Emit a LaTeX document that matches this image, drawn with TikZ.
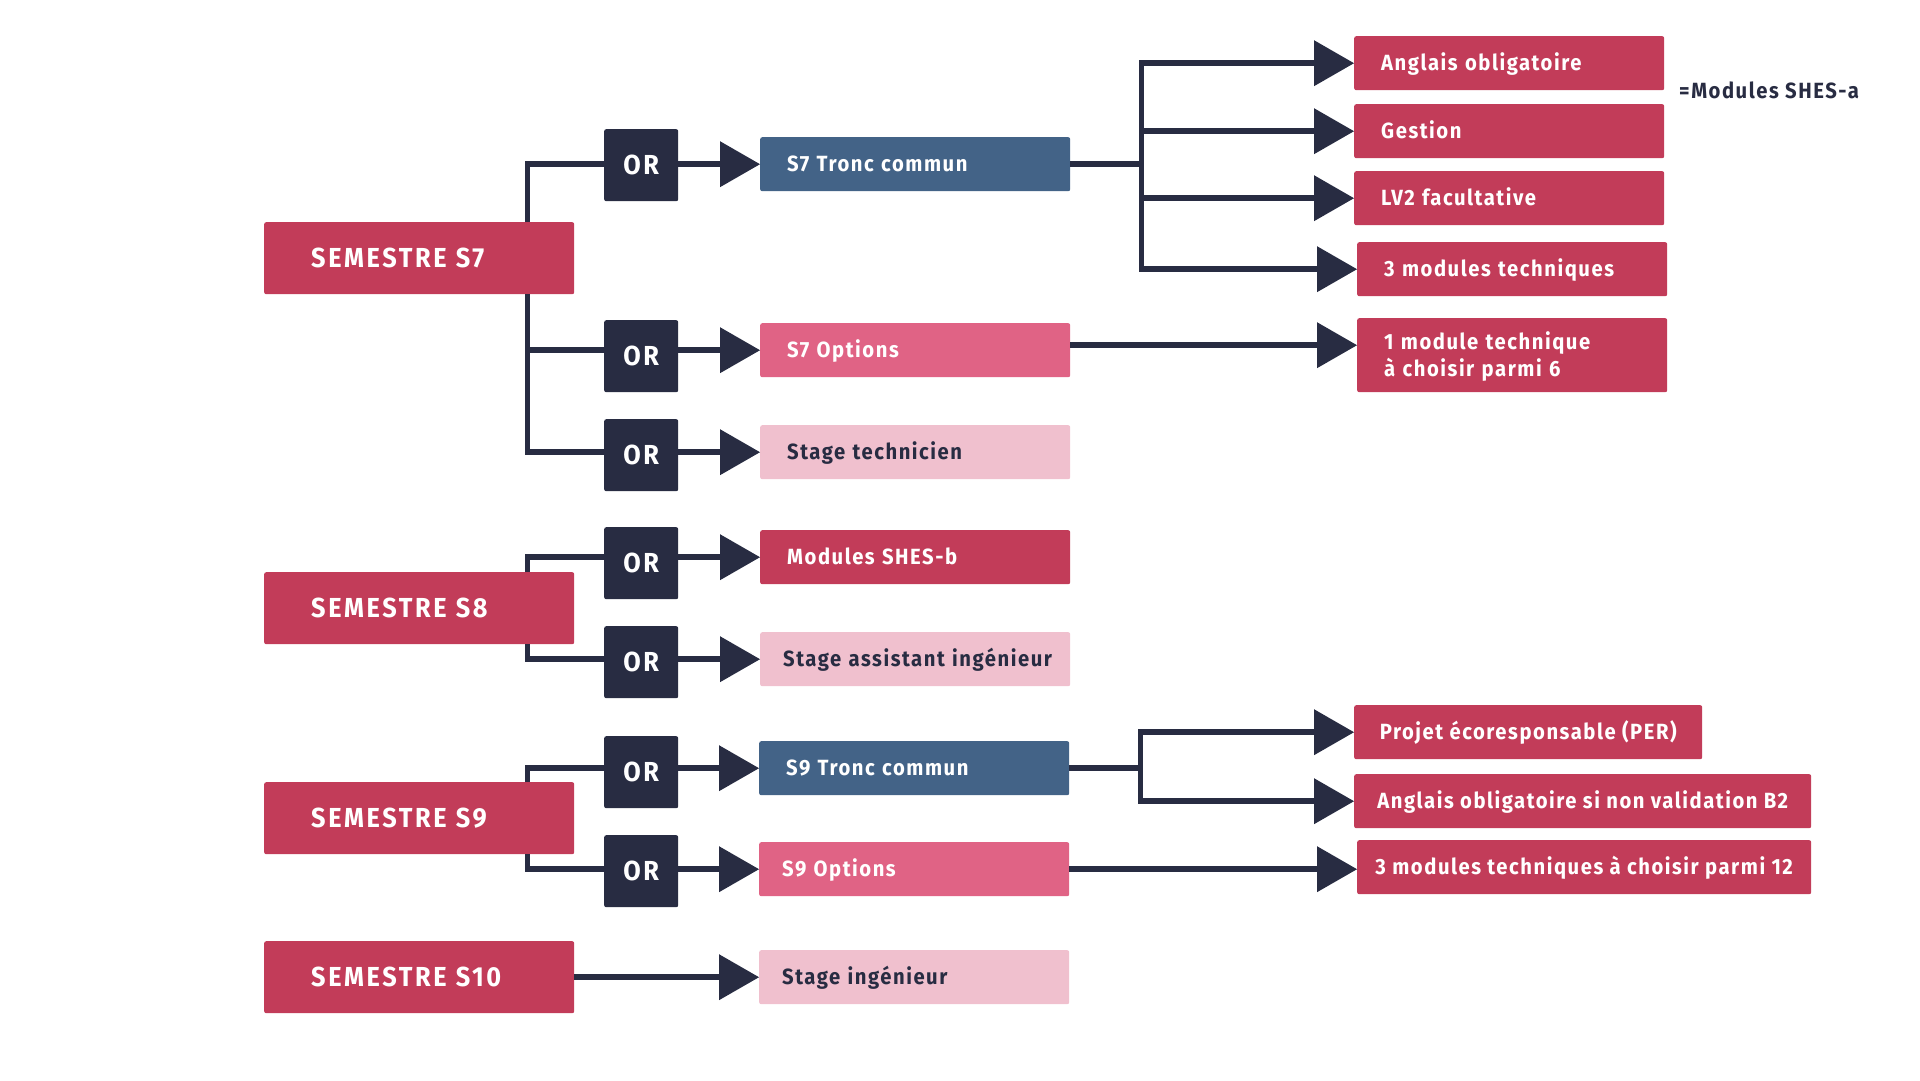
\documentclass[tikz,border=0pt]{standalone}
\usepackage{fontspec}
\setmainfont{Fira Sans}[FakeStretch=0.92, LetterSpace=7]
\newfontfamily\semfont{Fira Sans}[FakeStretch=0.92, LetterSpace=9.5]
\usetikzlibrary{arrows.meta}
\definecolor{crim}{HTML}{C23C59}
\definecolor{navy}{HTML}{282C42}
\definecolor{steel}{HTML}{436387}
\definecolor{rosy}{HTML}{E06385}
\definecolor{blush}{HTML}{F0C0CE}
\begin{document}
\begin{tikzpicture}[x=1pt,y=-1pt,
  base/.style={rectangle, rounded corners=2pt, anchor=north west, inner ysep=0pt, text depth=0pt},
  sem/.style={base, fill=crim, text=white, minimum width=310pt, minimum height=72pt,
     text width=216pt, inner xsep=47pt, align=left, font=\semfont\bfseries\fontsize{27.5}{33}\selectfont, text height=19pt},
  orbox/.style={base, fill=navy, text=white, minimum width=74pt, minimum height=72pt,
     inner xsep=0pt, align=center, font=\semfont\bfseries\fontsize{27.5}{33}\selectfont, text height=19pt},
  mid/.style={base, minimum width=310pt, minimum height=54pt, text width=256pt, inner xsep=27pt,
     align=left, font=\bfseries\fontsize{22}{27}\selectfont, text height=15.2pt},
  rbox/.style={base, fill=crim, text=white, minimum height=54pt, inner xsep=27pt,
     font=\bfseries\fontsize{22}{27}\selectfont, text height=15.2pt},
  conn/.style={draw=navy, line width=5.5pt, line join=miter},
  arr/.style={conn, -{Triangle[length=40pt, width=46pt, line width=0pt]}}
]
\useasboundingbox (0,0) rectangle (1920,1080);

% semester boxes
\node[sem] (s7) at (264,222) {SEMESTRE S7};
\node[sem] (s8) at (264,572) {SEMESTRE S8};
\node[sem] (s9) at (264,782) {SEMESTRE S9};
\node[sem] (s10) at (264,941) {SEMESTRE S10};

% OR boxes
\node[orbox] (or1) at (604,129) {OR};
\node[orbox] (or2) at (604,320) {OR};
\node[orbox] (or3) at (604,419) {OR};
\node[orbox] (or4) at (604,527) {OR};
\node[orbox] (or5) at (604,626) {OR};
\node[orbox] (or6) at (604,736) {OR};
\node[orbox] (or7) at (604,835) {OR};

% middle boxes
\node[mid, fill=steel, text=white] (tr7) at (760,137) {S7 Tronc commun};
\node[mid, fill=rosy, text=white] (op7) at (760,323) {S7 Options};
\node[mid, fill=blush, text=navy] (st7) at (760,425) {Stage technicien};
\node[mid, fill=crim, text=white] (shb) at (760,530) {Modules SHES-b};
\node[mid, fill=blush, text=navy, inner xsep=23pt, text width=264pt] (st8) at (760,632) {\mbox{Stage assistant ingénieur}};
\node[mid, fill=steel, text=white] (tr9) at (759,741) {S9 Tronc commun};
\node[mid, fill=rosy, text=white, inner xsep=23pt, text width=264pt] (op9) at (759,842) {S9 Options};
\node[mid, fill=blush, text=navy, inner xsep=23pt, text width=264pt] (st10) at (759,950) {Stage ingénieur};

% right boxes
\node[rbox, minimum width=310pt, text width=256pt, align=left] (ang) at (1354,36) {Anglais obligatoire};
\node[rbox, minimum width=310pt, text width=256pt, align=left] (ges) at (1354,104) {Gestion};
\node[rbox, minimum width=310pt, text width=256pt, align=left] (lv2) at (1354,171) {LV2 facultative};
\node[rbox, minimum width=310pt, text width=256pt, align=left] (mt3) at (1357,242) {3 modules techniques};
\node[base, fill=crim, text=white, minimum width=310pt, minimum height=74pt, inner xsep=27pt,
  text width=256pt, align=left, text height=15.2pt, text depth=27.5pt,
  font=\bfseries\fontsize{22}{27.5}\selectfont] (mt1) at (1357,318)
  {1 module technique\\à choisir parmi 6};
\node[rbox, minimum width=348pt, inner xsep=0pt, align=center] (per) at (1354,705) {Projet écoresponsable (PER)};
\node[rbox, minimum width=457pt, inner xsep=0pt, align=center] (ab2) at (1354,774) {Anglais obligatoire si non validation B2};
\node[rbox, minimum width=454pt, inner xsep=0pt, align=center] (m12) at (1357,840) {3 modules techniques à choisir parmi 12};

\node[anchor=west, text=navy, inner sep=0pt, text height=15.2pt, text depth=0pt,
  font=\bfseries\fontsize{22}{27}\selectfont] (shesa) at (1679,91) {=Modules SHES-a};

% left trunks
\draw[conn] ([xshift=-47pt]s7.north east) |- (or1.west |- tr7.west);
\draw[conn] ([xshift=-47pt]s7.south east) |- (or2.west |- op7.west);
\draw[conn] ([xshift=-47pt]s7.south east) |- (or3.west |- st7.west);
\draw[conn] ([xshift=-47pt]s8.north east) |- (or4.west |- shb.west);
\draw[conn] ([xshift=-47pt]s8.south east) |- (or5.west |- st8.west);
\draw[conn] ([xshift=-47pt]s9.north east) |- (or6.west |- tr9.west);
\draw[conn] ([xshift=-47pt]s9.south east) |- (or7.west |- op9.west);

% OR to middle
\draw[arr] (or1.east |- tr7.west) -- (tr7.west);
\draw[arr] (or2.east |- op7.west) -- (op7.west);
\draw[arr] (or3.east |- st7.west) -- (st7.west);
\draw[arr] (or4.east |- shb.west) -- (shb.west);
\draw[arr] (or5.east |- st8.west) -- (st8.west);
\draw[arr] (or6.east |- tr9.west) -- (tr9.west);
\draw[arr] (or7.east |- op9.west) -- (op9.west);
\draw[arr] (s10.east |- st10.west) -- (st10.west);

% right side S7
\coordinate (j7) at ([xshift=71pt]tr7.east);
\draw[conn] (tr7.east) -- (j7);
\draw[arr] (j7) |- (ang.west);
\draw[arr] (j7) |- (ges.west);
\draw[arr] (j7) |- (lv2.west);
\draw[arr] (j7) |- (mt3.west);
\coordinate (o7) at ([yshift=5pt]op7.east);
\draw[arr] (o7) -- (mt1.west |- o7);

% right side S9
\coordinate (j9) at ([xshift=71pt]tr9.east);
\draw[conn] (tr9.east) -- (j9);
\draw[arr] (j9) |- (per.west);
\draw[arr] (j9) |- (ab2.west);
\draw[arr] (op9.east) -- (m12.west |- op9.east);
\end{tikzpicture}
\end{document}
